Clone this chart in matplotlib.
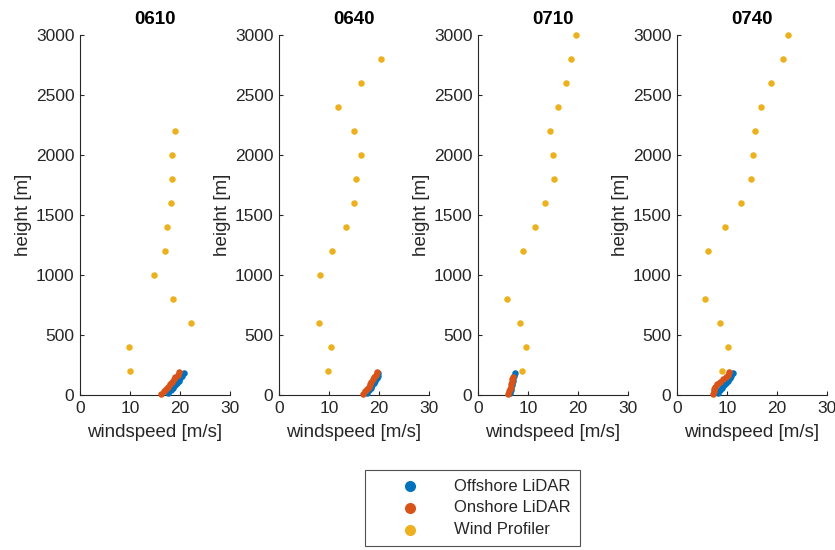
import matplotlib.pyplot as plt

plt.rcParams['font.family'] = ['Liberation Sans', 'DejaVu Sans']

times = ['0610', '0640', '0710', '0740']

# wind profiler (height [m], windspeed [m/s]) per time
wp_h = [
    [200, 400, 600, 800, 1000, 1200, 1400, 1600, 1800, 2000, 2200],
    [200, 400, 600, 1000, 1200, 1400, 1600, 1800, 2000, 2200, 2400, 2600, 2800],
    [200, 400, 600, 800, 1200, 1400, 1600, 1800, 2000, 2200, 2400, 2600, 2800, 3000],
    [200, 400, 600, 800, 1200, 1400, 1600, 1800, 2000, 2200, 2400, 2600, 2800, 3000],
]
wp_ws = [
    [10.0, 9.7, 22.2, 18.6, 14.8, 16.9, 17.3, 18.1, 18.4, 18.3, 19.0],
    [9.7, 10.3, 8.0, 8.1, 10.5, 13.4, 15.0, 15.3, 16.3, 15.0, 11.7, 16.3, 20.3],
    [8.7, 9.6, 8.3, 5.7, 8.9, 11.3, 13.3, 15.1, 14.9, 14.3, 15.9, 17.6, 18.6, 19.5],
    [8.9, 10.2, 8.5, 5.6, 6.1, 9.6, 12.8, 14.8, 15.1, 15.5, 16.7, 18.7, 21.1, 22.1],
]

# offshore lidar
off_h = [20, 40, 60, 80, 100, 120, 140, 160, 180]
off_ws = [
    [17.6, 18.1, 18.6, 18.9, 19.3, 19.7, 20.0, 20.4, 20.8],
    [17.5, 17.9, 18.3, 18.6, 18.9, 19.2, 19.5, 19.7, 19.8],
    [6.4, 6.5, 6.6, 6.7, 6.8, 6.9, 7.0, 7.1, 7.3],
    [8.2, 8.6, 9.0, 9.4, 9.8, 10.1, 10.5, 10.8, 11.1],
]

# onshore lidar
on_h = [10, 30, 50, 70, 90, 110, 130, 150, 170, 190]
on_ws = [
    [16.2, 16.8, 17.2, 17.5, 17.9, 18.4, 18.7, 19.0, 19.5, 19.8],
    [16.8, 17.2, 17.6, 18.0, 18.2, 18.4, 18.7, 19.0, 19.3, 19.5],
    [5.9, 6.2, 6.4, 6.5, 6.6, 6.7, 6.8, 6.9, None, None],
    [7.2, 7.3, 7.4, 7.6, 8.0, 8.6, 9.2, 9.7, 10.1, 10.4],
]

c_off = '#0072BD'
c_on = '#D95319'
c_wp = '#EDB120'
axcol = '#262626'

fig = plt.figure(figsize=(8.35, 5.5), dpi=100)
lefts = [80, 279, 478, 677]

for i, t in enumerate(times):
    ax = fig.add_axes([lefts[i] / 835, 1 - 395 / 550, 150 / 835, 360 / 550])
    ax.scatter(off_ws[i], off_h, s=22, color=c_off, label='Offshore LiDAR',
               zorder=3, clip_on=False, linewidths=0)
    oh = [h for h, w in zip(on_h, on_ws[i]) if w is not None]
    ow = [w for w in on_ws[i] if w is not None]
    ax.scatter(ow, oh, s=22, color=c_on, label='Onshore LiDAR',
               zorder=4, clip_on=False, linewidths=0)
    ax.scatter(wp_ws[i], wp_h[i], s=22, color=c_wp, label='Wind Profiler',
               zorder=5, clip_on=False, linewidths=0)
    ax.set_xlim(0, 30)
    ax.set_ylim(0, 3000)
    ax.set_xticks([0, 10, 20, 30])
    ax.set_yticks(range(0, 3001, 500))
    ax.spines['top'].set_visible(False)
    ax.spines['right'].set_visible(False)
    for s in ['left', 'bottom']:
        ax.spines[s].set_color(axcol)
        ax.spines[s].set_linewidth(0.8)
    ax.tick_params(direction='in', length=3, labelsize=12.5, colors=axcol, width=0.8, pad=4)
    ax.set_xlabel('windspeed [m/s]', fontsize=13.5, color=axcol, labelpad=6)
    ax.set_ylabel('height [m]', fontsize=13.5, color=axcol, labelpad=3)
    ax.set_title(t, fontsize=13.5, fontweight='bold', color='black', pad=8)
    if i == 0:
        handles, labels = ax.get_legend_handles_labels()

leg = fig.legend(handles, labels, loc='center', bbox_to_anchor=(0.566, 0.0764),
                 fontsize=12, frameon=True, fancybox=False, edgecolor=axcol,
                 handletextpad=0.5, borderpad=0.55, labelspacing=0.4,
                 markerscale=1.7, handlelength=4.3, borderaxespad=0)
leg.get_frame().set_linewidth(0.8)
for txt in leg.get_texts():
    txt.set_color(axcol)

plt.savefig('out.png', dpi=100)
